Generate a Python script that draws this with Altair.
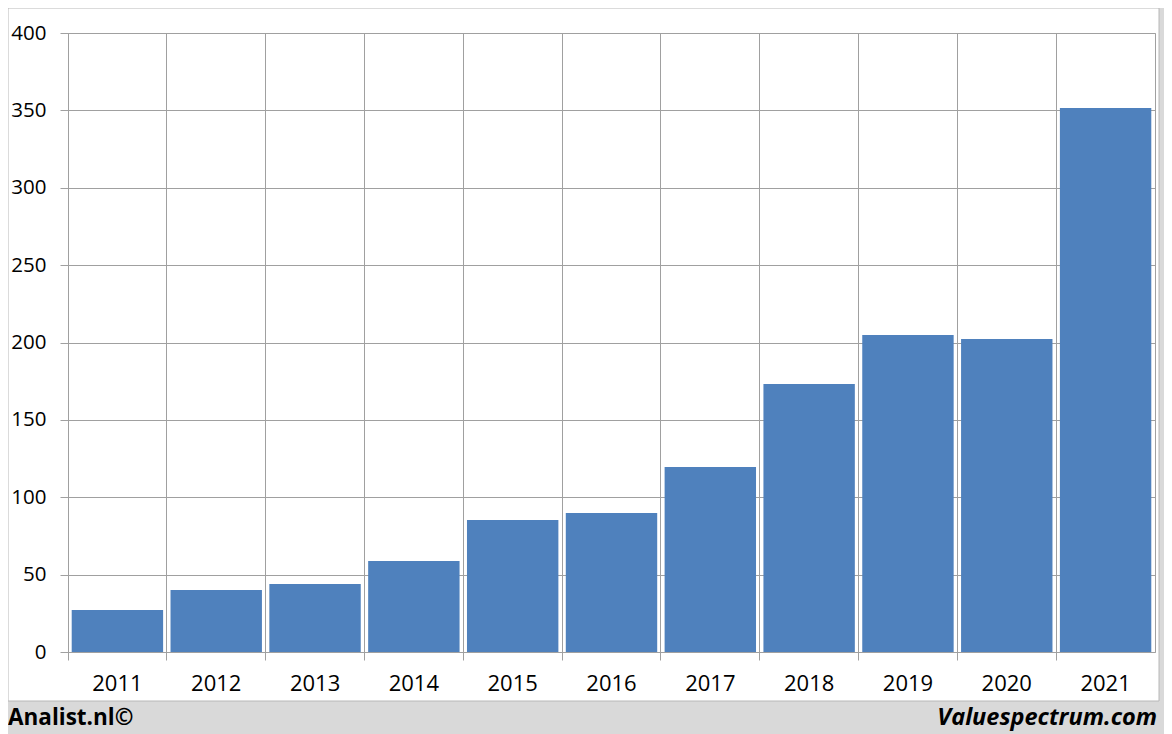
import altair as alt
import pandas as pd

years = ["2011", "2012", "2013", "2014", "2015", "2016", "2017", "2018", "2019", "2020", "2021"]
values = [27.1, 40.0, 44.0, 58.8, 85.3, 89.8, 119.5, 173.2, 204.8, 202.3, 351.5]
y_ticks = [0, 50, 100, 150, 200, 250, 300, 350, 400]
left_note = "Analist.nl©"
right_note = "Valuespectrum.com"

df = pd.DataFrame({"year": years, "value": values})
one = pd.DataFrame({"a": [0]})

W, H = 1087, 619
FONT = "Open Sans"
GRID = "#a0a0a0"
GRAY = "#d9d9d9"

xscale = alt.Scale(paddingInner=0, paddingOuter=0)
yscale = alt.Scale(domain=[0, 400], nice=False)

bars = alt.Chart(df).mark_bar(color="#4f81bd", width=alt.RelativeBandSize(0.925)).encode(
    x=alt.X("year:N", scale=xscale, sort=years, title=None,
            axis=alt.Axis(grid=True, gridColor=GRID, gridWidth=1,
                          ticks=True, tickSize=8, tickColor=GRID, domain=False,
                          bandPosition=0, labelAngle=0,
                          labelFont=FONT, labelFontSize=22, labelColor="black",
                          labelPadding=13)),
    y=alt.Y("value:Q", scale=yscale, title=None,
            axis=alt.Axis(values=y_ticks, grid=True, gridColor=GRID, gridWidth=1,
                          tickColor=GRID, tickSize=8, domain=False,
                          labelFont=FONT, labelFontSize=20.5, labelColor="black",
                          labelPadding=14)),
)

bottom_strip = alt.Chart(one).mark_rect(fill=GRAY).encode(
    x=alt.value(-68), x2=alt.value(1110), y=alt.value(668), y2=alt.value(740)
)
right_strip = alt.Chart(one).mark_rect(fill=GRAY).encode(
    x=alt.value(1091), x2=alt.value(1110), y=alt.value(-40), y2=alt.value(740)
)
panel_edge = alt.Chart(one).mark_rect(fill="white", fillOpacity=0, stroke="#b8b8b8", strokeWidth=1).encode(
    x=alt.value(-60), x2=alt.value(1091), y=alt.value(-25), y2=alt.value(668)
)
left_text = alt.Chart(one).mark_text(
    text=left_note, font=FONT, fontSize=22.5, fontWeight="bold", align="left",
    baseline="alphabetic", color="black"
).encode(x=alt.value(-60), y=alt.value(692))
right_text = alt.Chart(one).mark_text(
    text=right_note, font=FONT, fontSize=23.5, fontWeight="bold", fontStyle="italic",
    align="right", baseline="alphabetic", color="black"
).encode(x=alt.value(1089), y=alt.value(692))

chart = alt.layer(
    bars, bottom_strip, right_strip, panel_edge, left_text, right_text
).properties(
    width=W, height=H,
    autosize=alt.AutoSizeParams(type="none"),
    padding={"left": 60, "top": 25, "right": 9, "bottom": 86},
    background="white",
).configure_view(stroke=GRID, strokeWidth=1)

chart.save("out.html", embed_options={"renderer": "svg", "actions": False})
